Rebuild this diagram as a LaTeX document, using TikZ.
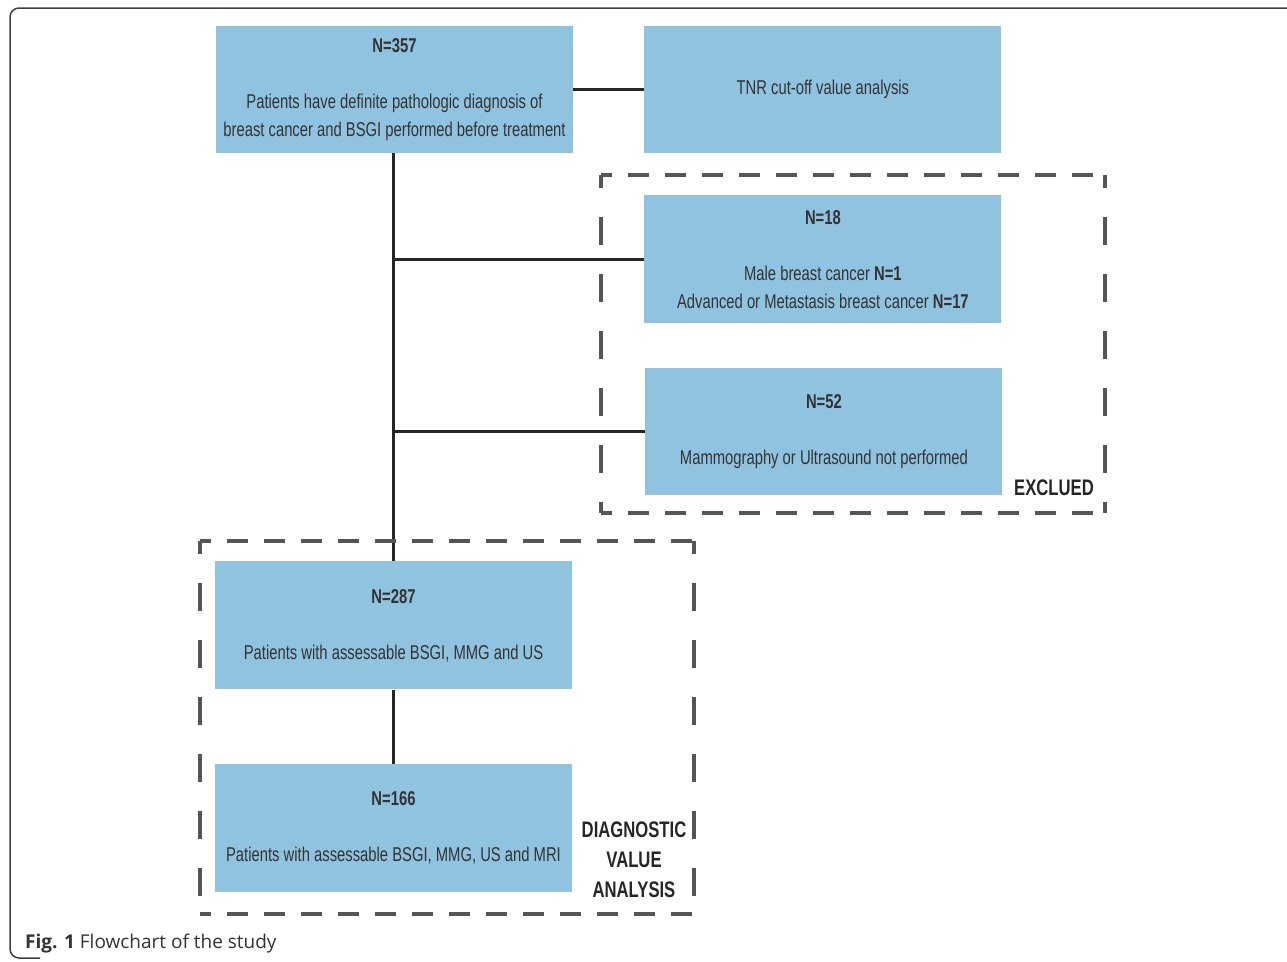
\documentclass[tikz,border=0pt]{standalone}
\usepackage{fontspec}
\setmainfont{Liberation Sans}
\newfontfamily\boxfont[FakeStretch=0.74]{Liberation Sans}
\newfontfamily\capfont{Open Sans}
\usetikzlibrary{positioning}
\definecolor{boxblue}{HTML}{90C3E0}
\definecolor{boxtext}{HTML}{333333}
\definecolor{dashgray}{HTML}{555555}
\tikzset{flowbox/.style={fill=boxblue, minimum width=357pt, minimum height=127pt, inner sep=0pt,
    align=center, text=boxtext, font=\boxfont\fontsize{20}{28}\selectfont}}
\tikzset{link/.style={line width=3pt, draw=black!85}}
\tikzset{hframe/.style={draw=dashgray, line width=3.5pt, dash pattern=on 21pt off 16pt, dash phase=10pt}}
\tikzset{vframe/.style={draw=dashgray, line width=3.5pt, dash pattern=on 28pt off 29pt, dash phase=15pt}}
\tikzset{framelabel/.style={font=\boxfont\bfseries\fontsize{22.5}{30}\selectfont, text=black!85, align=center}}

\begin{document}
\begin{tikzpicture}[x=1pt, y=-1pt]
    \useasboundingbox (0,0) rectangle (1287,961);
    \draw[line width=1.5pt, draw=black!75, rounded corners=9pt] (1300,8) -- (10,8) -- (10,958) -- (40,958);

    \node[flowbox] (total) at (394.5,89.5) {\textbf{N=357}\\[28pt]
        Patients have definite pathologic diagnosis of\\
        breast cancer and BSGI performed before treatment};
    \node[flowbox, right=71pt of total] (tnr) {TNR cut-off value analysis};
    \node[flowbox, below=42pt of tnr, minimum height=128pt] (male) {\textbf{N=18}\\[28pt]
        Male breast cancer \textbf{N=1}\\
        Advanced or Metastasis breast cancer \textbf{N=17}};
    \node[flowbox, below=44pt of male, xshift=1pt] (nomm) {\textbf{N=52}\\[28pt]
        Mammography or Ultrasound not performed};
    \node[flowbox, below=408pt of total, xshift=-1pt, minimum height=128pt] (mmgus) {\textbf{N=287}\\[28pt]
        Patients with assessable BSGI, MMG and US};
    \node[flowbox, below=74pt of mmgus, minimum height=128pt] (mri) {\textbf{N=166}\\[28pt]
        Patients with assessable BSGI, MMG, US and MRI};

    % connectors
    \draw[link] (total.east) -- (tnr.west);
    \draw[link] (total.south -| mmgus.north) -- (mmgus.north);
    \draw[link] (mmgus.north |- male.west) -- (male.west);
    \draw[link] (mmgus.north |- nomm.west) -- (nomm.west);
    \draw[link] (mmgus.south) -- (mri.north);

    % dashed frames
    \coordinate (ex-nw) at (601,175);
    \coordinate (ex-se) at (1105,513);
    \draw[hframe] (ex-nw) -- (ex-nw -| ex-se);
    \draw[hframe] (ex-nw |- ex-se) -- (ex-se);
    \draw[vframe] (ex-nw) -- (ex-nw |- ex-se);
    \draw[vframe] (ex-nw -| ex-se) -- (ex-se);
    \node[framelabel] (exlabel) at (1054,488) {EXCLUED};

    \coordinate (dv-nw) at (200,541);
    \coordinate (dv-se) at (694,914);
    \draw[hframe] (dv-nw) -- (dv-nw -| dv-se);
    \draw[hframe] (dv-nw |- dv-se) -- (dv-se);
    \draw[vframe] (dv-nw) -- (dv-nw |- dv-se);
    \draw[vframe] (dv-nw -| dv-se) -- (dv-se);
    \node[framelabel] (dvlabel) at (634,860) {DIAGNOSTIC\\VALUE\\ANALYSIS};

    \node[anchor=west, inner sep=0pt, text=black!80, font=\capfont\fontsize{19}{22}\selectfont] (caption) at (25,943)
        {\textbf{Fig. 1} Flowchart of the study};
\end{tikzpicture}
\end{document}
